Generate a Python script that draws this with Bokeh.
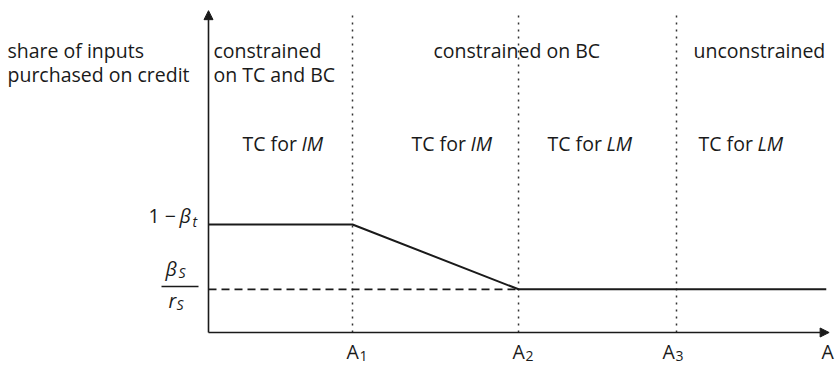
from bokeh.plotting import figure
from bokeh.models import Range1d, Arrow, NormalHead
from bokeh.core.properties import value
from bokeh.embed import file_html
from bokeh.resources import INLINE

# ---- data (conceptual diagram) ----
thresholds = [1.0, 2.153, 3.25]          # A1, A2, A3 on the A axis
threshold_labels = ["1", "2", "3"]
x_axis_end = 4.31
y_axis_end = 2.98
dotted_top = 2.963
share_high = 1.0                          # 1 - beta_t
share_low = 0.4                           # beta_S / r_S
curve_x = [0.0, thresholds[0], thresholds[1], 4.29]
curve_y = [share_high, share_high, share_low, share_low]
dash_x = [0.0, thresholds[1]]
dash_y = [share_low, share_low]
regime_labels = ["constrained", "constrained on BC", "unconstrained"]
tc_labels = ["IM", "IM", "LM", "LM"]

# ---- layout: pixel helpers ----
W, H = 837, 366
X0, Y0, SX, SY = 208.0, 332.0, 144.0, 108.0
TFIX = -7.0   # text baseline correction
def px(sx):
    return (sx - X0) / SX
def py(sy):
    return (Y0 - sy) / SY
def ty(sy):
    return py(sy + TFIX)

p = figure(width=W, height=H, output_backend="svg", toolbar_location=None,
           x_range=Range1d(px(0), px(W)), y_range=Range1d(py(H), py(0)),
           min_border=0, min_border_left=0, min_border_right=0,
           min_border_top=0, min_border_bottom=0)
p.axis.visible = False
p.grid.visible = False
p.outline_line_color = None
p.background_fill_color = "white"
p.border_fill_color = "white"

INK = "#1a1a1a"
FONT = value("Open Sans")
FS = "19.5px"
SUB = "14px"

# dotted vertical threshold lines
for t in thresholds:
    p.line([t, t], [0, dotted_top], line_color="#333333", line_width=1.5, line_dash="2 5")

# dashed line at beta_S/r_S
p.line(dash_x, dash_y, line_color=INK, line_width=1.8, line_dash="8 5")

# main curve
p.line(curve_x, curve_y, line_color=INK, line_width=2.0)

# axes with arrows
p.add_layout(Arrow(end=NormalHead(size=9, fill_color=INK, line_color=INK, line_width=1),
                   x_start=0, y_start=0, x_end=0, y_end=y_axis_end,
                   line_color=INK, line_width=1.6))
p.add_layout(Arrow(end=NormalHead(size=9, fill_color=INK, line_color=INK, line_width=1),
                   x_start=0, y_start=0, x_end=x_axis_end, y_end=0,
                   line_color=INK, line_width=1.6))

def txt(x, y, s, size=FS, style="normal", align="left"):
    p.text(x=[x], y=[y], text=[s], text_font=FONT, text_font_size=size,
           text_font_style=style, text_color=INK, text_align=align,
           text_baseline="alphabetic")

# y-axis title (two lines)
txt(px(7), ty(57), "share of inputs")
txt(px(7), ty(81), "purchased on credit")

# regime headers
txt(px(213), ty(57), regime_labels[0])
txt(px(213), ty(81), "on TC and BC")
txt(px(433), ty(57), regime_labels[1])
txt(px(693), ty(57), regime_labels[2])

# TC labels
tc_left = [242, 411, 547, 698]
for L, lab in zip(tc_left, tc_labels):
    txt(px(L), ty(150), "TC for")
    txt(px(L + 59), ty(150), lab, style="italic")

# y tick labels: 1 - beta_t
txt(px(148), ty(222), "1 \u2212")
txt(px(179), ty(222), "\u03b2", style="italic")
txt(px(192), ty(228), "t", size=SUB, style="italic")

# beta_S / r_S fraction
txt(px(165), ty(275), "\u03b2", style="italic")
txt(px(178), ty(279), "S", size=SUB, style="italic")
p.segment(x0=[px(161)], y0=[py(286)], x1=[px(198)], y1=[py(286)], line_color=INK, line_width=1.3)
txt(px(168), ty(307), "r", style="italic")
txt(px(176), ty(311), "S", size=SUB, style="italic")

# x tick labels A1, A2, A3 and axis label A
a_left = [346, 512, 662]
for L, sub in zip(a_left, threshold_labels):
    txt(px(L), ty(358), "A")
    txt(px(L + 13), ty(362), sub, size=SUB)
txt(px(821), ty(358), "A")

open("out.html", "w").write(file_html(p, INLINE))
